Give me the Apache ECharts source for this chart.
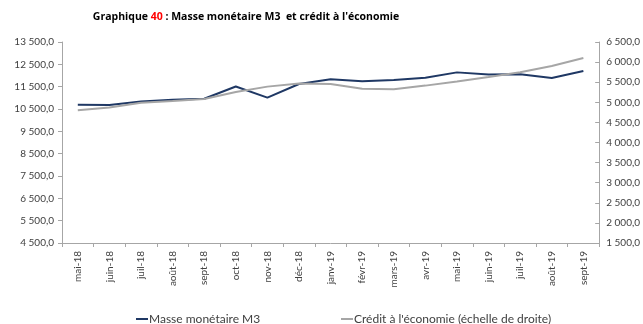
<!DOCTYPE html>
<html>
<head>
<meta charset="utf-8">
<script src="https://cdn.jsdelivr.net/npm/echarts@6/dist/echarts.min.js"></script>
<style>
  html, body { margin: 0; padding: 0; background: #fff; }
  #chart { width: 643px; height: 324px; }
</style>
</head>
<body>
<div id="chart"></div>
<script>
// Months shown along the category axis
const months = ['mai-18', 'juin-18', 'juil-18', 'août-18', 'sept-18', 'oct-18', 'nov-18', 'déc-18',
  'janv-19', 'févr-19', 'mars-19', 'avr-19', 'mai-19', 'juin-19', 'juil-19', 'août-19', 'sept-19'];

// Masse monétaire M3 (left scale)
const m3 = [10690, 10680, 10840, 10915, 10960, 11510, 11010, 11620,
  11830, 11740, 11800, 11900, 12140, 12040, 12060, 11890, 12200];

// Crédit à l'économie (right scale)
const credit = [4800, 4870, 4990, 5030, 5080, 5255, 5390, 5470,
  5455, 5335, 5325, 5415, 5520, 5630, 5745, 5905, 6100];

const nameM3 = 'Masse monétaire M3';
const nameCredit = "Crédit à l'économie (échelle de droite)";

const FONT = "Lato, 'Open Sans', sans-serif";
const TITLE_FONT = "'Open Sans', Lato, sans-serif";
const axisGray = '#a6a6a6';
const textColor = '#404040';

function fmt(v) {
  const s = Math.round(v).toString().replace(/\B(?=(\d{3})+(?!\d))/g, ' ');
  return s + ',0';
}

const chart = echarts.init(document.getElementById('chart'), null, { renderer: 'canvas' });

const labelStyle = { color: textColor, fontFamily: FONT, fontSize: 10, formatter: fmt };

chart.setOption({
  animation: false,
  title: {
    text: '{b|Graphique }{r|40}{b| : Masse monétaire M3  et crédit à l\'économie}',
    left: 241,
    top: 7,
    textAlign: 'center',
    textStyle: {
      rich: {
        b: { fontFamily: TITLE_FONT, fontWeight: 'bold', fontSize: 10.5, color: '#000' },
        r: { fontFamily: TITLE_FONT, fontWeight: 'bold', fontSize: 10.5, color: '#ff0000' }
      }
    }
  },
  legend: [
    {
      data: [nameM3], left: 131, top: 308, icon: 'rect', itemWidth: 12, itemHeight: 2, itemGap: 2,
      textStyle: { fontFamily: FONT, fontSize: 12, color: textColor, padding: [0, 0, 0, -4] }
    },
    {
      data: [nameCredit], left: 336, top: 308, icon: 'rect', itemWidth: 12, itemHeight: 2, itemGap: 2,
      textStyle: { fontFamily: FONT, fontSize: 12, color: textColor, padding: [0, 0, 0, -4] }
    }
  ],
  grid: { left: 62, right: 42, top: 42, bottom: 81, containLabel: false },
  xAxis: {
    type: 'category',
    data: months,
    boundaryGap: true,
    axisLine: { lineStyle: { color: axisGray } },
    axisTick: { show: true, length: 4, interval: 0, lineStyle: { color: axisGray } },
    axisLabel: { rotate: 90, interval: 0, color: textColor, fontFamily: FONT, fontSize: 10, margin: 8 }
  },
  yAxis: [
    {
      type: 'value', position: 'left', min: 4500, max: 13500, interval: 1000,
      splitLine: { show: false },
      axisLine: { show: true, lineStyle: { color: axisGray } },
      axisTick: { show: true, length: 4, lineStyle: { color: axisGray } },
      axisLabel: Object.assign({ margin: 8 }, labelStyle)
    },
    {
      type: 'value', position: 'right', min: 1500, max: 6500, interval: 500,
      splitLine: { show: false },
      axisLine: { show: true, lineStyle: { color: axisGray } },
      axisTick: { show: true, inside: true, length: 4, lineStyle: { color: axisGray } },
      axisLabel: Object.assign({ margin: 7 }, labelStyle)
    }
  ],
  series: [
    {
      name: nameM3, type: 'line', data: m3, yAxisIndex: 0,
      symbol: 'none', lineStyle: { color: '#1f3864', width: 2 }, itemStyle: { color: '#1f3864' }
    },
    {
      name: nameCredit, type: 'line', data: credit, yAxisIndex: 1,
      symbol: 'none', lineStyle: { color: '#a6a6a6', width: 2 }, itemStyle: { color: '#a6a6a6' }
    }
  ]
});
</script>
</body>
</html>
